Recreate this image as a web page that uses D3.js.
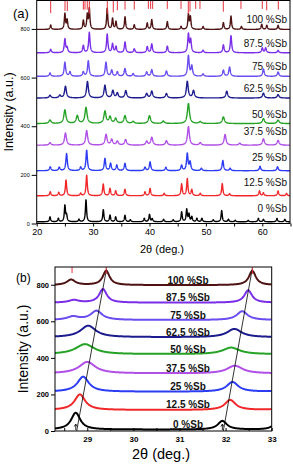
<!DOCTYPE html>
<html lang="en">
<head>
  <meta charset="UTF-8">
  <title>XRD</title>
  <style>
    body{margin:0; background:#fff;}
    svg{display:block; font-family: "Liberation Sans", Arial, sans-serif;}
  </style>
</head>
<body>
<div id="chart"></div>
<script src="https://d3js.org/d3.v7.min.js"></script>
<script>
// DATA
const names = ["0 %Sb", "12.5 %Sb", "25 %Sb", "37.5 %Sb", "50 %Sb", "62.5 %Sb", "75 %Sb", "87.5 %Sb", "100 %Sb"];
const colors = ["#000000", "#f0282a", "#2b3cf2", "#b050e6", "#26a326", "#1c1c8e", "#6a4cf0", "#7a2ee8", "#4e1212"];

// panel (a): baseline of each pattern, peak half widths, peaks [2theta, height]
const offsetsA = [7, 114, 217, 322, 411, 516, 605, 702, 798];
const widthsA = [0.12, 0.13, 0.15, 0.2, 0.22, 0.19, 0.16, 0.14, 0.12];
const peaksA = [
  [[22.36,20],[23.84,14],[25.0,66],[25.3,25],[27.5,10],[28.74,90],[31.81,50],[33.0,27],[34.0,20],[35.65,27],[36.6,8],[39.08,14],[40.0,30],[40.5,12],[42.5,10],[44.2,8],[45.7,40],[46.6,50],[47.0,30],[47.5,20],[48.4,14],[49.3,14],[51.3,8],[52.8,46],[54.0,10],[55.2,6],[57.5,6],[59.3,14],[60.2,10],[62.6,14],[64.0,10]],
  [[22.4,16],[23.9,14],[25.2,65],[27.8,10],[28.86,84],[31.8,48],[33.0,30],[34.0,20],[35.65,27],[39.2,16],[40.1,30],[42.6,10],[45.7,48],[46.7,70],[47.5,25],[49.0,10],[52.9,50],[54.2,8],[59.5,20],[60.2,12],[62.8,20],[64.3,10]],
  [[22.4,16],[24.0,14],[25.3,70],[27.8,14],[28.86,84],[32.1,50],[33.1,30],[34.2,23],[35.65,30],[39.2,14],[40.1,36],[42.9,14],[45.7,22],[46.7,70],[47.2,35],[49.2,10],[53.0,42],[54.3,10],[59.6,18],[62.7,16]],
  [[22.36,10],[25.1,50],[28.86,60],[32.3,44],[33.3,23],[34.3,16],[35.77,23],[39.5,16],[40.4,32],[43.0,18],[46.9,76],[49.0,10],[53.4,44],[56.0,8],[60.2,26],[62.8,20]],
  [[22.36,14],[25.0,56],[27.2,32],[28.74,66],[32.1,50],[33.0,27],[34.0,20],[35.65,32],[37.1,8],[40.0,32],[42.45,10],[46.9,82],[49.0,8],[53.1,27],[60.2,20],[62.8,14]],
  [[22.36,11],[24.1,11],[25.1,48],[29.0,68],[32.1,52],[33.5,30],[34.3,20],[35.8,30],[39.5,18],[40.4,28],[43.0,18],[46.7,68],[47.8,30],[53.7,28],[60.2,20],[62.8,14]],
  [[22.36,14],[25.0,58],[25.9,18],[28.27,18],[29.15,64],[32.28,58],[33.3,25],[34.3,18],[35.65,32],[37.1,11],[39.5,18],[40.4,27],[43.0,22],[46.9,84],[47.5,42],[49.5,10],[53.1,25],[54.2,38],[60.2,30],[62.8,18]],
  [[22.48,14],[25.0,56],[25.4,20],[28.27,30],[29.33,84],[32.5,76],[33.45,36],[34.06,25],[35.66,44],[37.3,16],[39.6,25],[40.4,36],[43.16,27],[46.9,76],[47.3,52],[49.5,10],[53.1,32],[54.45,70],[60.0,20],[60.6,20],[62.8,10]],
  [[22.48,18],[25.0,64],[25.4,38],[28.27,36],[28.97,58],[29.33,84],[32.5,86],[33.45,45],[34.06,32],[35.66,52],[37.3,19],[39.6,26],[40.4,40],[43.16,32],[45.6,12],[46.9,60],[47.25,50],[49.5,12],[53.1,28],[54.45,55],[56.3,12],[59.9,21],[60.8,17],[62.8,17]]
];
// reference pattern (red bars on top), [2theta, relative intensity]
const refA = [[22.48,90],[25.02,75],[25.43,75],[28.27,65],[28.56,65],[28.97,65],[29.33,95],[32.52,95],[33.58,85],[34.3,70],[35.66,65],[37.3,65],[39.79,60],[40.2,60],[40.56,60],[43.16,60],[45.59,60],[46.88,95],[47.18,80],[48.19,60],[48.95,60],[53.09,80],[56.22,60],[60.0,60],[60.78,70],[62.84,65]];

// panel (b): baseline, peaks [2theta, height, half width]
const offsetsB = [8, 115, 215, 315, 420, 513, 607, 702, 798];
const peaksB = [
  [[28.75,92,0.12],[31.93,47,0.12],[33.08,30,0.1]],
  [[28.84,85,0.14],[32.1,55,0.14],[33.25,20,0.12]],
  [[28.91,82,0.15],[32.15,53,0.15],[33.3,12,0.12]],
  [[29.0,63,0.21],[32.2,42,0.2]],
  [[28.95,55,0.24],[32.12,36,0.22]],
  [[29.02,63,0.2],[32.19,45,0.19]],
  [[28.69,18,0.15],[29.2,50,0.15],[32.36,48,0.14]],
  [[28.71,14,0.13],[29.34,74,0.1],[32.49,68,0.1]],
  [[28.65,30,0.11],[29.41,78,0.09],[32.58,78,0.09]]
];
const refB = [[28.67,60],[29.41,70],[32.58,70]];
const shiftLines = [[[28.77,0],[29.42,889]], [[31.95,0],[32.58,889]]];
const arrowsB = [28.75, 31.93];

const ticksA = [0, 200, 400, 600, 800];
const xticksA = [20, 30, 40, 50, 60];
const xticksB = [29, 30, 31, 32, 33];

// SVG
const width = 293, height = 464;
const svg = d3.select("#chart").append("svg")
  .attr("width", width)
  .attr("height", height);

// sum of lorentzian peaks on top of a baseline
function profile(peaks, base, w, lo, hi, step) {
  const pts = [];
  for (let x = lo; x <= hi + 1e-9; x += step) {
    let y = base;
    peaks.forEach(p => {
      const hw = p[2] || w;
      y += p[1] / (1 + ((x - p[0]) / hw) ** 2);
    });
    pts.push([x, y]);
  }
  return pts;
}

// ---------- PANEL (a) ----------
const xa = d3.scaleLinear().domain([20, 65]).range([36.7, 290.5]);
const ya = d3.scaleLinear().domain([0, 917]).range([223.5, 0.5]);
const refLenA = d3.scaleLinear().domain([0, 100]).range([0, 14]);

svg.append("clipPath").attr("id", "clipA")
  .append("rect").attr("x", 36.7).attr("y", 0).attr("width", 253.3).attr("height", 224);

const gA = svg.append("g");
const lineA = d3.line().x(d => xa(d[0])).y(d => ya(d[1]));

gA.append("g").attr("clip-path", "url(#clipA)")
  .selectAll("path")
  .data(peaksA)
  .join("path")
  .attr("d", (d, i) => lineA(profile(d, offsetsA[i], widthsA[i], 20, 65, 0.02)))
  .attr("fill", "none")
  .attr("stroke", (d, i) => colors[i])
  .attr("stroke-width", 1.4)
  .attr("stroke-linejoin", "round");

gA.append("g")
  .selectAll("line")
  .data(refA)
  .join("line")
  .attr("x1", d => xa(d[0])).attr("x2", d => xa(d[0]))
  .attr("y1", ya(917)).attr("y2", d => ya(917) + refLenA(d[1]))
  .attr("stroke", "#e8323e")
  .attr("stroke-width", 1);

gA.append("g")
  .selectAll("text")
  .data(names)
  .join("text")
  .attr("x", 287)
  .attr("y", (d, i) => ya(offsetsA[i]) - (i < 4 ? 10 : 6))
  .attr("text-anchor", "end")
  .attr("font-size", 10)
  .attr("fill", "#111")
  .text(d => d);

gA.append("rect")
  .attr("x", 36.7).attr("y", 0.5).attr("width", 253.3).attr("height", 223)
  .attr("fill", "none").attr("stroke", "#000").attr("stroke-width", 1);

const axA = gA.append("g").attr("transform", "translate(36.7,0)")
  .call(d3.axisLeft(ya).tickValues(ticksA).tickSize(5).tickPadding(2));
axA.select(".domain").remove();
axA.selectAll("text").attr("font-size", 5.5).attr("font-family", "Liberation Sans, Arial");

const bxA = gA.append("g").attr("transform", "translate(0,223.5)")
  .call(d3.axisBottom(xa).tickValues(d3.range(20, 66, 5)).tickSize(3).tickFormat(d => xticksA.includes(d) ? d : ""));
bxA.select(".domain").remove();
bxA.selectAll("text").attr("font-size", 9).attr("font-family", "Liberation Sans, Arial").attr("dy", "0.6em");

svg.append("text").attr("x", 162).attr("y", 253)
  .attr("text-anchor", "middle").attr("font-size", 11).text("2θ (deg.)");
svg.append("text").attr("transform", "translate(13,112) rotate(-90)")
  .attr("text-anchor", "middle").attr("font-size", 12.5).text("Intensity (a.u.)");
svg.append("text").attr("x", 13).attr("y", 18).attr("font-size", 13).text("(a)");

// ---------- PANEL (b) ----------
const xb = d3.scaleLinear().domain([28.3, 33]).range([55, 271.7]);
const yb = d3.scaleLinear().domain([0, 897]).range([431, 267]);
const refLenB = d3.scaleLinear().domain([0, 100]).range([0, 10]);

svg.append("clipPath").attr("id", "clipB")
  .append("rect").attr("x", 55).attr("y", 267).attr("width", 216.7).attr("height", 164);

const gB = svg.append("g");
const lineB = d3.line().x(d => xb(d[0])).y(d => yb(d[1]));

gB.append("g").attr("clip-path", "url(#clipB)")
  .selectAll("path")
  .data(peaksB)
  .join("path")
  .attr("d", (d, i) => lineB(profile(d, offsetsB[i], 0.15, 28.3, 33, 0.01)))
  .attr("fill", "none")
  .attr("stroke", (d, i) => colors[i])
  .attr("stroke-width", 2);

gB.append("g")
  .selectAll("line")
  .data(shiftLines)
  .join("line")
  .attr("x1", d => xb(d[0][0])).attr("y1", d => yb(d[0][1]))
  .attr("x2", d => xb(d[1][0])).attr("y2", d => yb(d[1][1]))
  .attr("stroke", "#000").attr("stroke-width", 0.8);

gB.append("g")
  .selectAll("line")
  .data(refB)
  .join("line")
  .attr("x1", d => xb(d[0])).attr("x2", d => xb(d[0]))
  .attr("y1", yb(897)).attr("y2", d => yb(897) + refLenB(d[1]))
  .attr("stroke", "#e8323e").attr("stroke-width", 1);

gB.append("g")
  .selectAll("path")
  .data(arrowsB)
  .join("path")
  .attr("d", d => `M${xb(d)},430 V424.5 M${xb(d) - 1.5},426.5 L${xb(d)},424 L${xb(d) + 1.5},426.5`)
  .attr("fill", "none").attr("stroke", "#000").attr("stroke-width", 0.8);

gB.append("g")
  .selectAll("text")
  .data(names)
  .join("text")
  .attr("x", 188)
  .attr("y", (d, i) => yb(offsetsB[i]) - 1.5)
  .attr("text-anchor", "middle")
  .attr("font-size", 10)
  .attr("font-weight", "bold")
  .attr("fill", "#111")
  .text(d => d);

gB.append("rect")
  .attr("x", 55).attr("y", 267).attr("width", 216.7).attr("height", 164)
  .attr("fill", "none").attr("stroke", "#000").attr("stroke-width", 1);

const axB = gB.append("g").attr("transform", "translate(55,0)")
  .call(d3.axisLeft(yb).tickValues(ticksA).tickSize(4).tickPadding(2));
axB.select(".domain").remove();
axB.selectAll("text").attr("font-size", 7.5).attr("font-weight", "bold").attr("font-family", "Liberation Sans, Arial");

const bxB = gB.append("g").attr("transform", "translate(0,431)")
  .call(d3.axisBottom(xb).tickValues(d3.range(28.5, 33.01, 0.5)).tickSize(-3).tickPadding(5)
    .tickFormat(d => xticksB.includes(d) ? d : ""));
bxB.select(".domain").remove();
bxB.selectAll("text").attr("font-size", 8).attr("font-weight", "bold").attr("font-family", "Liberation Sans, Arial");

svg.append("text").attr("x", 161).attr("y", 459)
  .attr("text-anchor", "middle").attr("font-size", 14.5).text("2θ (deg.)");
svg.append("text").attr("transform", "translate(28,349) rotate(-90)")
  .attr("text-anchor", "middle").attr("font-size", 14).text("Intensity (a.u.)");
svg.append("text").attr("x", 16).attr("y", 282).attr("font-size", 12).text("(b)");
</script>
</body>
</html>
